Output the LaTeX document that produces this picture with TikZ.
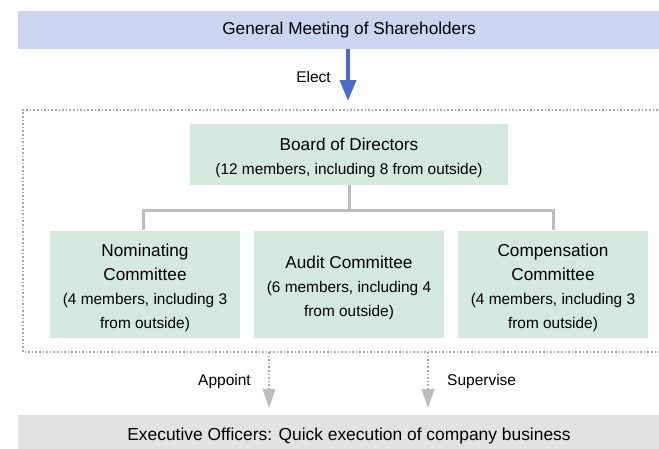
\documentclass[tikz,border=0pt]{standalone}
\usepackage{fontspec}
\setmainfont{Liberation Sans}
\usetikzlibrary{arrows.meta}
\definecolor{topblue}{HTML}{CBD5F0}
\definecolor{arrowblue}{HTML}{4A6CC8}
\definecolor{boxgreen}{HTML}{D3E8DF}
\definecolor{linegray}{HTML}{BDBDBD}
\definecolor{dotgray}{HTML}{AAAAAA}
\definecolor{botgray}{HTML}{E2E2E2}
\newcommand{\ttl}{\fontsize{17.2}{24}\selectfont}
\newcommand{\dtl}{\fontsize{15.4}{24}\selectfont}
\newcommand{\topstrut}{\rule{0pt}{20pt}}
\tikzset{
  bar/.style={fill=#1, draw=none, minimum height=38pt, inner sep=0pt},
  greenbox/.style={fill=boxgreen, draw=none, align=center, inner sep=0pt, font=\ttl},
  lbl/.style={font=\fontsize{15.5}{18}\selectfont, inner sep=0pt},
  conn/.style={draw=linegray, line width=3pt},
  dotarrow/.style={draw=dotgray, line width=1.6pt, dash pattern=on 1.6pt off 2pt, -{Triangle[length=19pt,width=13pt,color=linegray,line width=0pt]}},
}
\begin{document}
\begin{tikzpicture}[x=1pt,y=-1pt]
\useasboundingbox (0,0) rectangle (659,448);
\clip (0,0) rectangle (659,448);
% top bar
\node[bar=topblue, anchor=north west, minimum width=660pt] (gm) at (18,11) {};
\node[font=\ttl] (gmt) at (349,30.5) {General Meeting of Shareholders};
% dotted frame
\coordinate (f1) at (665,110);
\coordinate (f2) at (23,110);
\coordinate (f3) at (23,352);
\coordinate (f4) at (665,352);
\draw[dotgray, line width=1.6pt, dash pattern=on 1.6pt off 2pt] (f1) -- (f2) -- (f3) -- (f4);
% elect arrow
\coordinate (eA) at (348,49);
\coordinate (eB) at (348,101);
\draw[arrowblue, line width=4pt, -{Triangle[length=21pt,width=16pt]}] (eA) -- (eB);
\node[lbl, anchor=east] (elect) at (331,77) {Elect};
% board
\node[greenbox, minimum width=318pt, minimum height=61pt] (board) at (349,154.5) {\topstrut Board of Directors\\\dtl(12 members, including 8 from outside)};
% committees
\node[greenbox, minimum width=190pt, minimum height=107pt] (nom) at (145,284) {\topstrut Nominating\\Committee\\\dtl(4 members, including 3\\\dtl from outside)};
\node[greenbox, minimum width=190pt, minimum height=107pt] (aud) at (349,284) {\topstrut Audit Committee\\\dtl(6 members, including 4\\\dtl from outside)};
\node[greenbox, minimum width=190pt, minimum height=107pt] (com) at (553,284) {\topstrut Compensation\\Committee\\\dtl(4 members, including 3\\\dtl from outside)};
% connectors
\coordinate (jn) at (143,210);
\coordinate (jc) at (553,210);
\draw[conn] (board.south) -- (board.south |- jn);
\draw[conn] (jn |- nom.north) -- (jn) -- (jc) -- (jc |- com.north);
% bottom bar
\node[bar=botgray, anchor=north west, minimum width=660pt, minimum height=36pt] (ex) at (18,415) {};
\node[font=\fontsize{17.4}{20}\selectfont] (ext) at (349,436) {Executive Officers: Quick execution of company business};
% dotted arrows
\coordinate (a1) at (269,352);
\coordinate (a2) at (269,408);
\coordinate (s1) at (428,352);
\coordinate (s2) at (428,408);
\draw[dotarrow] (a1) -- (a2);
\draw[dotarrow] (s1) -- (s2);
\node[lbl, anchor=east] (app) at (251,381) {Appoint};
\node[lbl, anchor=west] (sup) at (447,381) {Supervise};
\end{tikzpicture}
\end{document}
